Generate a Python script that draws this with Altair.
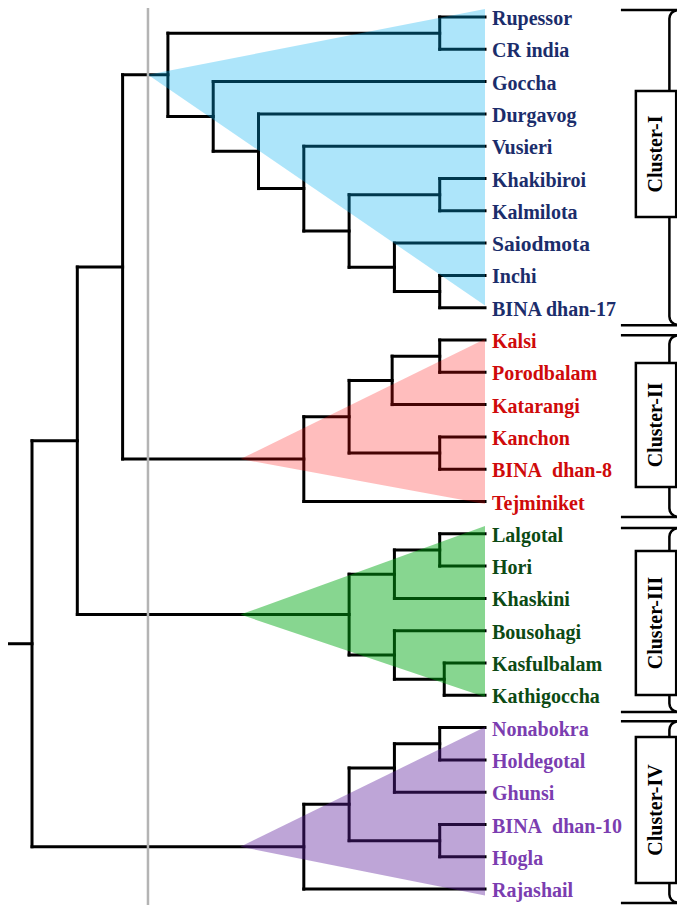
import altair as alt
import pandas as pd

# ---------------- data ----------------
leaves = ["Rupessor", "CR india", "Goccha", "Durgavog", "Vusieri", "Khakibiroi",
          "Kalmilota", "Saiodmota", "Inchi", "BINA dhan-17",
          "Kalsi", "Porodbalam", "Katarangi", "Kanchon", "BINA\u2002dhan-8", "Tejminiket",
          "Lalgotal", "Hori", "Khaskini", "Bousohagi", "Kasfulbalam", "Kathigoccha",
          "Nonabokra", "Holdegotal", "Ghunsi", "BINA\u2002dhan-10", "Hogla", "Rajashail"]
leaf_cluster = [0] * 10 + [1] * 6 + [2] * 6 + [3] * 6
cluster_names = ["Cluster-I", "Cluster-II", "Cluster-III", "Cluster-IV"]

# linkage: node ids 0..27 are leaves, 28.. are merges in order
merge_a = [0, 8, 7, 5, 31, 4, 3, 2, 28, 10, 37, 13, 38, 40, 36, 16, 43, 20, 19, 44, 42, 22, 49, 25, 50, 52, 48]
merge_b = [1, 9, 29, 6, 30, 32, 33, 34, 35, 11, 12, 14, 39, 15, 41, 17, 18, 21, 45, 46, 47, 23, 24, 26, 51, 27, 53]
merge_h = [10, 10, 20, 10, 30, 40, 50, 60, 70, 10, 20.5, 10, 30, 40, 80, 10, 20, 9, 20, 30, 90, 10, 20, 10, 30, 40, 100]
root_stub = 106.2
cut_level = 74.4

tri_apex = [74.4, 54, 54, 54]
tri_top = [-0.25, 9.97, 15.76, 21.98]
tri_bottom = [8.93, 15.08, 21.05, 27.2]
tri_colors = ["#00aeef", "#ff0a0a", "#00a814", "#5c1e9b"]
tri_opacity = [0.32, 0.27, 0.47, 0.40]
label_colors = ["#1b2d6b", "#cf0a0a", "#0c4a14", "#7b3db0"]

bracket_top = [-0.22, 9.85, 15.82, 21.80]
bracket_bottom = [9.54, 15.48, 21.52, 27.43]
box_top = [2.29, 10.71, 16.53, 22.29]
box_bottom = [6.19, 14.55, 20.99, 26.81]

# ---------------- tree geometry ----------------
n = len(leaves)
node_y = [float(i) for i in range(n)]
node_h = [0.0] * n
node_set = [frozenset([i]) for i in range(n)]
segs = []
for a, b, h in zip(merge_a, merge_b, merge_h):
    ya, yb = node_y[a], node_y[b]
    segs.append(dict(x=h, x2=h, y=ya, y2=yb))
    segs.append(dict(x=node_h[a], x2=h, y=ya, y2=ya))
    segs.append(dict(x=node_h[b], x2=h, y=yb, y2=yb))
    node_y.append((ya + yb) / 2)
    node_h.append(float(h))
    node_set.append(node_set[a] | node_set[b])
segs.append(dict(x=node_h[-1], x2=root_stub, y=node_y[-1], y2=node_y[-1]))
seg_df = pd.DataFrame(segs)

# cluster root y
cluster_root_y = []
for c in range(4):
    s = frozenset(i for i in range(n) if leaf_cluster[i] == c)
    idx = node_set.index(s)
    cluster_root_y.append(node_y[idx])

# ---------------- scales ----------------
xs = alt.Scale(domain=[-42.38, 105.3], reverse=True, nice=False, zero=False)
ys = alt.Scale(domain=[-0.2786, 27.492], reverse=True, nice=False, zero=False)
X = lambda f: alt.X(f, type="quantitative", scale=xs, axis=None)
Y = lambda f: alt.Y(f, type="quantitative", scale=ys, axis=None)

layers = []

# dendrogram lines
layers.append(
    alt.Chart(seg_df).mark_rule(color="black", strokeWidth=3, strokeCap="square").encode(
        x=X("x"), x2="x2", y=Y("y"), y2="y2")
)

# grey cut line
cut_df = pd.DataFrame([dict(x=cut_level, y=-0.37, y2=27.59)])
layers.append(
    alt.Chart(cut_df).mark_rule(color="#b4b4b4", strokeWidth=2.5).encode(
        x=X("x"), y=Y("y"), y2="y2")
)

# triangles
for c in range(4):
    tdf = pd.DataFrame([
        dict(x=tri_apex[c], y=cluster_root_y[c], y2=cluster_root_y[c]),
        dict(x=0.0, y=tri_top[c], y2=tri_bottom[c]),
    ])
    layers.append(
        alt.Chart(tdf).mark_area(color=tri_colors[c], opacity=tri_opacity[c], orient="vertical").encode(
            x=X("x"), y=Y("y"), y2="y2")
    )

# leaf labels
lab_df = pd.DataFrame(dict(name=leaves, y=list(range(n)), x=[0.0] * n,
                           cluster=[cluster_names[c] for c in leaf_cluster]))
layers.append(
    alt.Chart(lab_df).mark_text(align="left", baseline="middle", dx=7, dy=2,
                                font="Liberation Serif", fontWeight="bold").encode(
        x=X("x"), y=Y("y"), text="name:N",
        color=alt.Color("cluster:N", scale=alt.Scale(domain=cluster_names, range=label_colors), legend=None),
        size=alt.condition(alt.datum.name == "Saiodmota", alt.value(21.5), alt.value(20)))
)

# brackets
BR_LEFT, BR_X, BOX_L, BOX_R = -30.0, -40.7, -33.3, -42.2
br_rows = []
curve = [(0.0, 0.0), (-1.9, 0.0), (-1.0, 0.04), (-0.45, 0.10), (-0.12, 0.18), (0.0, 0.27)]
for c in range(4):
    T, B, bt, bb = bracket_top[c], bracket_bottom[c], box_top[c], box_bottom[c]
    pts_top = [(BR_LEFT, T)] + [(BR_X + dx, T + dy) for dx, dy in curve[1:]] + [(BR_X, bt)]
    pts_bot = [(BR_X, bb)] + [(BR_X + dx, B - dy) for dx, dy in reversed(curve[1:])] + [(BR_LEFT, B)]
    for part, pts in (("t", pts_top), ("b", pts_bot)):
        for k, (px, py) in enumerate(pts):
            br_rows.append(dict(key=f"{c}{part}", o=k, x=px, y=py))
br_df = pd.DataFrame(br_rows)
layers.append(
    alt.Chart(br_df).mark_line(color="black", strokeWidth=2.5).encode(
        x=X("x"), y=Y("y"), detail="key:N", order="o:Q")
)

# boxes
box_df = pd.DataFrame(dict(name=cluster_names, x=[BOX_L] * 4, x2=[BOX_R] * 4,
                           y=box_top, y2=box_bottom,
                           ym=[(a + b) / 2 for a, b in zip(box_top, box_bottom)],
                           xm=[(BOX_L + BOX_R) / 2] * 4))
layers.append(
    alt.Chart(box_df).mark_rect(fill="white", stroke="black", strokeWidth=2.5).encode(
        x=X("x"), x2="x2", y=Y("y"), y2="y2")
)
layers.append(
    alt.Chart(box_df).mark_text(angle=270, baseline="middle", align="center", font="Liberation Serif",
                                fontWeight="bold", fontSize=20, color="black").encode(
        x=X("xm"), y=Y("ym"), text="name:N")
)

chart = alt.layer(*layers).properties(
    width=669, height=897, padding=0,
    autosize=alt.AutoSizeParams(type="none"),
    background="white",
).configure_view(stroke=None)

chart.save("out.html", embed_options={"renderer": "svg", "actions": False})
